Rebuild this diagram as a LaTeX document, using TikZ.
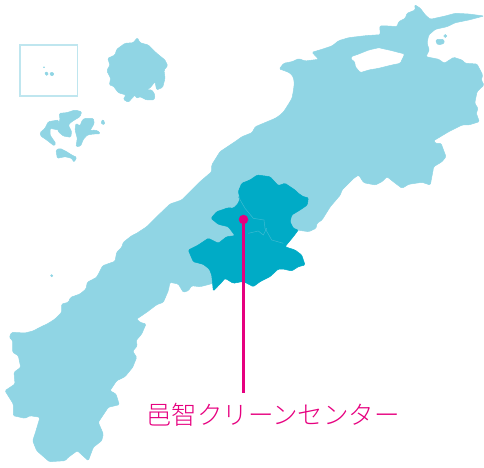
\documentclass[tikz,border=0pt]{standalone}
\usepackage{fontspec}
\newfontfamily\cjk{Noto Sans CJK JP}[UprightFont=* Light]
\definecolor{landlight}{HTML}{90D5E4}
\definecolor{landdark}{HTML}{00ABC6}
\definecolor{pinkline}{HTML}{E6007F}
\definecolor{boxline}{HTML}{BFE6EF}
\definecolor{innerline}{HTML}{3DBBD2}
\tikzset{
  light/.style={fill=landlight,draw=landlight,line width=0.5bp,rounded corners=1.2bp},
  darkarea/.style={fill=landdark,draw=landdark,line width=0.5bp,rounded corners=1.2bp},
  border/.style={draw=innerline,line width=0.5bp},
  pin/.style={draw=pinkline,line width=3bp},
  pindot/.style={circle,fill=pinkline,inner sep=0pt,minimum size=9.5bp},
  pinlabel/.style={text=pinkline,font=\cjk\fontsize{25.5bp}{26bp}\selectfont,inner sep=0pt}
}
\begin{document}
\begin{tikzpicture}[x=1bp,y=-1bp]
\useasboundingbox (0,0) rectangle (484,468);
% main land with lake
\path[light,even odd rule]
 (279.3,69)--(283.7,63.3)--(292,61.7)--(298.7,58.7)--(305.3,61)--(318.7,59.3)--(312,52.3)--(322,49.3)--(332,46)--(338.7,40.7)--(348.7,37.7)--(365.3,35.7)--(380.3,34.7)--(379.7,26)--(388.7,26)--(397,26.7)--(398.7,21.7)--(405.3,18.3)--(407,13.3)--(415.3,10)--(414.7,4.7)--(420.3,8.3)--(425.3,15)--(430.3,19.3)--(445.3,16)--(455.3,13.3)--(468.7,14)--(484,16)--(468.7,20)--(455.3,22.7)--(447,26.7)--(435.3,29.3)--(428.7,35)--(427,43.3)--(429.3,50)--(426,56.7)--(438.7,59.3)--(444.3,63.3)--(453.7,57.3)--(462,60)--(465.3,63.3)--(477,64)--(482.7,75)--(481.3,80)--(484,85)--(477,91.7)--(474.7,103.3)--(478,108.3)--(476.3,113.3)--(479.3,121.7)--(468.7,125)--(462,125)--(448.7,131.7)--(433.7,140.7)--(435.3,143.3)--(441,143.3)--(446,156.7)--(442,161.7)--(433.7,166.7)--(430.3,185)--(422,182.3)--(408.7,184.3)--(402,188.3)--(395.3,183.3)--(387,176.7)--(382,181.7)--(375.3,185)--(363.7,182.7)--(358.7,175)--(353.7,178.3)--(342,190)--(340.3,195)--(330.3,206.7)--(322,220)--(317,223.3)--(316,228.3)--(308.7,231.7)--(297,230)--(285,246.7)--(260,262)--(215,282)--(210.7,284)--(200,286.7)--(191.7,285.7)--(188.3,290.7)--(183.3,292.3)--(178.3,284)--(170,282.3)--(168.3,290.7)--(163.3,302.3)--(156.7,304.7)--(146.7,312.3)--(136.7,319)--(140,322.3)--(146,324)--(141.7,334)--(136,340.7)--(137.3,345.7)--(132.7,351.3)--(136.7,357.3)--(132.7,367.3)--(125,376.7)--(116.7,380.7)--(110,390.7)--(116,394)--(119.3,404.7)--(108.3,407.3)--(98.3,422.3)--(103.3,434)--(101.7,440.7)--(93.3,447.3)--(88.3,460.7)--(77.3,450.7)--(68.3,457.3)--(65,460.7)--(49.3,461.7)--(36.7,450.7)--(32.7,440.7)--(35,434)--(40,417.3)--(30,415.7)--(25,418.3)--(13.3,415.7)--(13.3,404)--(5,390.7)--(15,384)--(14,372.3)--(20.7,367.3)--(18.3,355.7)--(12.7,352.3)--(12.7,340.7)--(9.3,337.3)--(11.7,332.3)--(25,333)--(33,331)--(40,327.3)--(48,323.5)--(55,319)--(61.7,312.3)--(61.7,304)--(68.3,302.3)--(70.7,297.3)--(80,294)--(86,289)--(87.3,282.3)--(96.7,277.3)--(102.7,265.7)--(115,261.3)--(116.7,252.3)--(121.7,247.3)--(123.3,242.3)--(131.7,235.7)--(136.7,233.3)--(146.7,226.7)--(156.7,216.7)--(170,204)--(181.7,200)--(191.7,190)--(200,181.7)--(211.7,171.7)--(211.7,165)--(220,151.7)--(235,141.7)--(242,136.7)--(252,132.7)--(255.3,126.7)--(275.3,118.3)--(279.5,115.5)--(283.7,111.7)--(288,105)--(292,98.3)--(293.5,90)--(294.3,83.3)--(293.5,78)--(292,75)--(289,72.5)--(285.3,71)--cycle
 (351,56.7)--(358.7,54)--(368.7,50)--(378.7,47.7)--(392,50.7)--(404.7,54)--(400.3,63.3)--(392,65)--(378.7,68.3)--(368.7,70)--(360.3,72.7)--(355.3,66.7)--(354.7,61.7)--(351,59.3)--cycle;
% small islands
\path[light] (436.3,39.3)--(443.7,39.3)--(444.3,43.3)--(438.7,45)--(436,42.7)--cycle;
\path[light] (445.3,36) circle (1.5);
\path[light] (51.7,275.7) circle (1.1);
\path[light] (137.3,37.7)--(140,42.7)--(148.3,45)--(156.7,53.3)--(165,60)--(167.7,65.7)--(164,70)--(165,78.3)--(162.7,87.3)--(156.7,90)--(155,81.7)--(150,88)--(146,90)--(152,90)--(155,95)--(154,100)--(146.7,100)--(140,96.7)--(136.7,98.3)--(135,95)--(128.3,102.3)--(123.3,99.3)--(126,95)--(118.3,92.7)--(113.3,86)--(109.3,85)--(110.7,78.3)--(106.7,70.7)--(110,65)--(107.7,58.3)--(115,55)--(116.7,49.3)--(125,43.3)--(133.3,42.7)--cycle;
\path[light] (40,132.7)--(45,128.3)--(48.3,121.7)--(58.5,120)--(58.5,130)--(50,128.3)--(50,135)--(55.7,143.3)--(54.3,146)--(46.7,140)--(40.7,136)--cycle;
\path[light] (59.3,113.3)--(66.7,112.7)--(75,110)--(81.7,111.7)--(80,116.7)--(71.7,121.7)--(68.3,125)--(71.7,131.7)--(70.7,137.3)--(63.3,136)--(58.3,131.7)--(57.3,126.7)--(60,120)--cycle;
\path[light] (76,123.3)--(80,126)--(82.3,120)--(85,118.3)--(93.3,118.3)--(94.3,123.3)--(90,130.7)--(95,130)--(99.3,131.7)--(100,134)--(93.3,134)--(87.3,135)--(83.3,139.3)--(80.7,146)--(76,146.7)--(77.3,138.3)--(75,130)--cycle;
\path[light] (56,150)--(60,148.3)--(66.7,151.7)--(71.7,155)--(76.7,157.3)--(74,162.3)--(71.7,158.3)--(65,156.7)--(57.3,158.3)--cycle;
\path[light] (101,121.7)--(103.3,119.3)--(105,124.3)--(101.7,124.3)--cycle;
\path[light] (45,71.7)--(48.3,72.7)--(47.7,75.7)--(45.3,75)--cycle;
\path[light] (50,72.3)--(54,72.7)--(53.3,76)--(50,75.3)--cycle;
\path[light] (44,67.3) circle (0.5);
% inset frame
\draw[draw=boxline,line width=1.5bp] (20,45) rectangle (77.5,96);
% highlighted area
\path[darkarea] (238.3,191.7)--(241.7,183.3)--(250,180)--(257.3,175)--(270,176.7)--(278.3,185.7)--(285,183.3)--(295,190)--(298.3,193.3)--(303.3,196.7)--(308.3,197.7)--(307.3,205)--(300,210)--(291.7,215)--(290,221.7)--(293.3,228.3)--(298.3,230)--(293.3,236.7)--(285,246.7)--(295,250)--(301.7,255)--(305,265)--(298.3,266.7)--(291.7,271)--(283.3,269)--(278.3,269)--(270,276.7)--(260,281.7)--(253.3,286.7)--(245,282.3)--(241.7,281.7)--(233.3,283.3)--(225,278.3)--(221.7,282.3)--(213.3,291)--(211.7,275)--(209.3,269)--(203.3,264.3)--(193.3,261.7)--(188.3,250)--(195,246.7)--(198.3,245)--(208.3,238.3)--(218.3,243.3)--(226.7,236.7)--(235,235.7)--(228.3,226.7)--(218.3,224.3)--(211,218.3)--(216.7,211.7)--(228.3,207.7)--(233.3,208.3)--(238.3,203.3)--(240,198.3)--cycle;
\draw[border] (238.3,196.7)--(245,208.3)--(253.3,218.3)--(264,220)--(265,228.3)--(271.7,240)--(283.3,243.3);
\draw[border] (248.3,233.3)--(258.3,231)--(263.3,235)--(266.7,228.3);
% pin and label
\node[pindot] (pinhead) at (243.5,219.5) {};
\coordinate (pinfoot) at (243.5,393);
\draw[pin] (pinhead.center) -- (pinfoot);
\node[pinlabel] (pintext) at (273,415) {邑智クリーンセンター};
\end{tikzpicture}
\end{document}
